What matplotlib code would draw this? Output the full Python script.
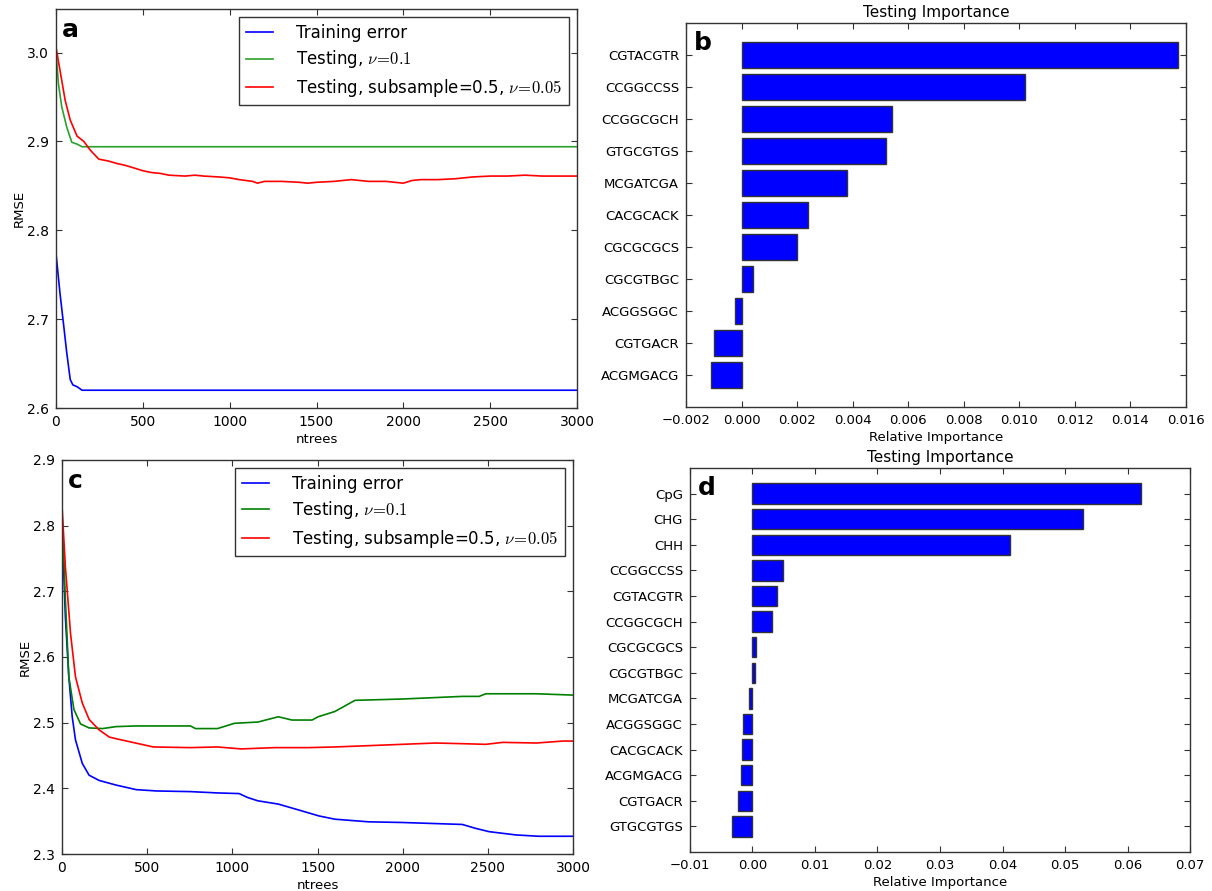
import matplotlib
matplotlib.use("Agg")
import matplotlib.pyplot as plt
import numpy as np

plt.rcParams['font.family'] = ['DejaVu Sans']
plt.rcParams['mathtext.fontset'] = 'cm'

# ---------------- Panel a data ----------------
a_train_x = [0, 23, 43, 62, 82, 97, 121, 150, 3000]
a_train_y = [2.774, 2.729, 2.695, 2.662, 2.632, 2.626, 2.624, 2.620, 2.620]

a_test_x = [0, 14, 33, 62, 91, 121, 150, 3000]
a_test_y = [3.000, 2.965, 2.939, 2.916, 2.899, 2.897, 2.894, 2.894]

a_sub_x = [0, 23, 53, 82, 121, 160, 198, 247, 300, 354, 400, 451, 500, 549, 600, 650,
           743, 800, 850, 938, 1000, 1055, 1133, 1160, 1200, 1300, 1400, 1450, 1500,
           1600, 1700, 1800, 1900, 2000, 2050, 2100, 2200, 2300, 2400, 2500, 2600,
           2700, 2800, 2900, 3000]
a_sub_y = [3.006, 2.980, 2.946, 2.924, 2.906, 2.900, 2.890, 2.880, 2.878, 2.875, 2.873,
           2.870, 2.867, 2.865, 2.864, 2.862, 2.861, 2.862, 2.861, 2.860, 2.859, 2.857,
           2.855, 2.853, 2.855, 2.855, 2.854, 2.853, 2.854, 2.855, 2.857, 2.855, 2.855,
           2.853, 2.856, 2.857, 2.857, 2.858, 2.860, 2.861, 2.861, 2.862, 2.861, 2.861,
           2.861]

# ---------------- Panel c data ----------------
c_train_x = [0, 20, 40, 60, 79, 119, 159, 218, 317, 436, 555, 754, 913, 1040, 1090,
             1150, 1270, 1390, 1508, 1602, 1800, 1996, 2350, 2429, 2508, 2666, 2800, 3000]
c_train_y = [2.800, 2.660, 2.570, 2.509, 2.474, 2.438, 2.420, 2.412, 2.405, 2.398,
             2.396, 2.395, 2.393, 2.392, 2.386, 2.381, 2.376, 2.367, 2.358, 2.353,
             2.349, 2.348, 2.345, 2.339, 2.334, 2.329, 2.327, 2.327]

c_test_x = [0, 20, 40, 70, 109, 159, 238, 317, 436, 754, 784, 913, 1012, 1151, 1270,
            1350, 1468, 1504, 1602, 1720, 1996, 2350, 2449, 2488, 2784, 3000]
c_test_y = [2.820, 2.687, 2.570, 2.520, 2.498, 2.492, 2.491, 2.494, 2.495, 2.495,
            2.491, 2.491, 2.499, 2.501, 2.509, 2.504, 2.504, 2.509, 2.517, 2.534,
            2.536, 2.540, 2.540, 2.544, 2.544, 2.542]

c_sub_x = [0, 20, 50, 79, 119, 159, 218, 278, 327, 397, 536, 754, 913, 1052, 1250,
           1448, 1602, 1800, 1996, 2193, 2350, 2488, 2587, 2784, 2941, 3000]
c_sub_y = [2.830, 2.737, 2.636, 2.570, 2.530, 2.505, 2.489, 2.478, 2.475, 2.471,
           2.463, 2.462, 2.463, 2.460, 2.462, 2.462, 2.463, 2.465, 2.467, 2.469,
           2.468, 2.467, 2.470, 2.469, 2.472, 2.472]

# ---------------- Panel b data (top to bottom) ----------------
b_labels = ["CGTACGTR", "CCGGCCSS", "CCGGCGCH", "GTGCGTGS", "MCGATCGA", "CACGCACK",
            "CGCGCGCS", "CGCGTBGC", "ACGGSGGC", "CGTGACR", "ACGMGACG"]
b_values = [0.0157, 0.0102, 0.0054, 0.0052, 0.0038, 0.0024, 0.0020, 0.0004,
            -0.00025, -0.00098, -0.0011]

# ---------------- Panel d data (top to bottom) ----------------
d_labels = ["CpG", "CHG", "CHH", "CCGGCCSS", "CGTACGTR", "CCGGCGCH", "CGCGCGCS",
            "CGCGTBGC", "MCGATCGA", "ACGGSGGC", "CACGCACK", "ACGMGACG", "CGTGACR",
            "GTGCGTGS"]
d_values = [0.0622, 0.0528, 0.0412, 0.0049, 0.0040, 0.0032, 0.0006, 0.0004,
            -0.0006, -0.0015, -0.0017, -0.0018, -0.0023, -0.0033]

legend_labels = ["Training error", r"Testing, $\nu\!=\!0.1$",
                 r"Testing, subsample=0.5, $\nu\!=\!0.05$"]

W, H = 1212, 891
fig = plt.figure(figsize=(W / 100, H / 100), dpi=100)


def rect(l, r, t, b):
    return [l / W, 1 - b / H, (r - l) / W, (b - t) / H]


def style(ax, fs):
    ax.tick_params(direction='in', top=True, right=True, length=4, width=0.8,
                   labelsize=fs, pad=5, color='#333333')
    for s in ax.spines.values():
        s.set_color('#333333')
        s.set_linewidth(1.0)


def line_panel(ax, xs_list, ys_list, ylim, yticks, colors, label):
    for xs, ys, c, lab in zip(xs_list, ys_list, colors, legend_labels):
        ax.plot(xs, ys, color=c, lw=1.2, label=lab)
    ax.set_xlim(0, 3000)
    ax.set_ylim(*ylim)
    ax.set_yticks(yticks)
    ax.set_xticks([0, 500, 1000, 1500, 2000, 2500, 3000])
    ax.set_xlabel("ntrees", fontsize=9.5, labelpad=3)
    ax.set_ylabel("RMSE", fontsize=9.5, labelpad=1)
    style(ax, 10)
    leg = ax.legend(loc='upper right', fontsize=12, frameon=True, fancybox=False,
                    handlelength=1.6, handletextpad=1.4, borderpad=0.4,
                    labelspacing=0.38, borderaxespad=0.5)
    leg.get_frame().set_edgecolor('black')
    leg.get_frame().set_linewidth(1.0)
    ax.text(0.012, 0.978, label, transform=ax.transAxes, va='top', ha='left',
            fontsize=18, fontweight='bold')


def bar_panel(ax, labels, values, xlim, xticks, label):
    n = len(values)
    pos = np.arange(n)[::-1]
    ax.barh(pos, values, height=0.8, align='center', color='#0000ff',
            edgecolor='#333333', linewidth=1.0)
    ax.set_yticks(pos)
    ax.set_yticklabels(labels)
    ax.set_ylim(-1, n)
    ax.set_xlim(*xlim)
    ax.set_xticks(xticks)
    ax.set_xlabel("Relative Importance", fontsize=9.5, labelpad=3)
    ax.set_title("Testing Importance", fontsize=11, pad=4)
    style(ax, 9.5)
    ax.text(0.015, 0.98, label, transform=ax.transAxes, va='top', ha='left',
            fontsize=18, fontweight='bold')


ax_a = fig.add_axes(rect(56, 577, 9, 408))
line_panel(ax_a, [a_train_x, a_test_x, a_sub_x], [a_train_y, a_test_y, a_sub_y],
           (2.6, 3.049), [2.6, 2.7, 2.8, 2.9, 3.0], ['#0000ff', '#2ca02c', '#ff0000'], 'a')

ax_b = fig.add_axes(rect(686, 1186, 23, 407))
bar_panel(ax_b, b_labels, b_values, (-0.002, 0.016),
          np.arange(-0.002, 0.0161, 0.002), 'b')

ax_c = fig.add_axes(rect(62, 573, 460, 854))
line_panel(ax_c, [c_train_x, c_test_x, c_sub_x], [c_train_y, c_test_y, c_sub_y],
           (2.3, 2.9), [2.3, 2.4, 2.5, 2.6, 2.7, 2.8, 2.9], ['#0000ff', '#008000', '#ff0000'], 'c')

ax_d = fig.add_axes(rect(690, 1190, 468, 852))
bar_panel(ax_d, d_labels, d_values, (-0.01, 0.07),
          np.arange(-0.01, 0.0701, 0.01), 'd')

fig.savefig("out.png", dpi=100, facecolor='white')
